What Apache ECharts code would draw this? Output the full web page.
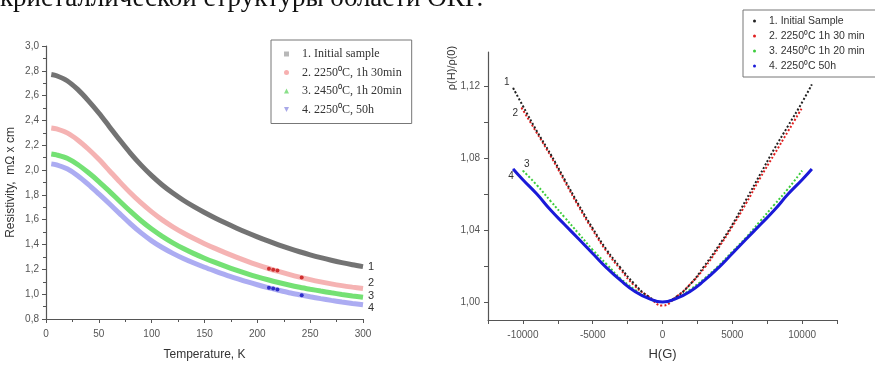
<!DOCTYPE html>
<html>
<head>
<meta charset="utf-8">
<script src="https://cdn.jsdelivr.net/npm/echarts@6/dist/echarts.min.js"></script>
<style>
  html, body { margin: 0; padding: 0; background: #fff; }
  #chart { width: 875px; height: 366px; }
</style>
</head>
<body>
<div id="chart"></div>
<script>
// left panel: resistivity vs temperature
const temps = [5, 10, 20, 30, 40, 50, 60, 70, 80, 90, 100, 110, 120, 130, 140, 150,
  160, 170, 180, 190, 200, 210, 220, 230, 240, 250, 260, 270, 280, 290, 300];
const resInitial = [2.770, 2.760, 2.720, 2.650, 2.560, 2.460, 2.350, 2.240, 2.135, 2.040, 1.955, 1.880, 1.815,
  1.757, 1.705, 1.658, 1.614, 1.573, 1.534, 1.497, 1.462, 1.429, 1.398, 1.369, 1.342, 1.317, 1.294, 1.273,
  1.254, 1.237, 1.222];
const res2250short = [2.340, 2.332, 2.300, 2.243, 2.170, 2.087, 1.995, 1.903, 1.815, 1.735, 1.663, 1.599, 1.543,
  1.493, 1.448, 1.407, 1.369, 1.333, 1.299, 1.267, 1.237, 1.209, 1.183, 1.159, 1.137, 1.117, 1.099, 1.083,
  1.069, 1.057, 1.046];
const res2450 = [2.130, 2.122, 2.095, 2.045, 1.980, 1.908, 1.829, 1.747, 1.667, 1.592, 1.525, 1.466, 1.414,
  1.368, 1.327, 1.290, 1.256, 1.224, 1.194, 1.166, 1.140, 1.116, 1.094, 1.074, 1.056, 1.040, 1.025, 1.011,
  0.998, 0.986, 0.975];
const res2250long = [2.050, 2.042, 2.010, 1.955, 1.885, 1.808, 1.729, 1.647, 1.567, 1.494, 1.430, 1.376, 1.329,
  1.288, 1.251, 1.217, 1.186, 1.156, 1.128, 1.101, 1.076, 1.053, 1.032, 1.012, 0.995, 0.979, 0.964, 0.950,
  0.937, 0.925, 0.914];
// darker spots on curves 2 and 4
const spots2 = [[211, 1.204], [215, 1.197], [219, 1.190], [242, 1.134]];
const spots4 = [[211, 1.051], [215, 1.045], [219, 1.038], [242, 0.992]];
const leftNames = ['1. Initial sample', '2. 2250⁰C, 1h 30min', '3. 2450⁰C, 1h 20min', '4. 2250⁰C, 50h'];
const endTags = ['1', '2', '3', '4'];

// right panel: magnetoresistance, [H, rho(H)/rho(0)]
const mrInitial = [[-10700, 1.119], [-10000, 1.109], [-9000, 1.095], [-8000, 1.082], [-7000, 1.068], [-6000, 1.054],
  [-5000, 1.041], [-4000, 1.029], [-3000, 1.019], [-2000, 1.010], [-1000, 1.003], [0, 1.000], [1000, 1.003],
  [2000, 1.010], [3000, 1.020], [4000, 1.031], [5000, 1.043], [6000, 1.057], [7000, 1.071], [8000, 1.085],
  [9000, 1.098], [10000, 1.111], [10700, 1.121]];
const mr2250short = [[-10100, 1.108], [-9000, 1.094], [-8000, 1.081], [-7000, 1.067], [-6000, 1.053], [-5000, 1.040],
  [-4000, 1.028], [-3000, 1.018], [-2000, 1.009], [-1000, 1.003], [0, 0.998], [1000, 1.003], [2000, 1.010],
  [3000, 1.019], [4000, 1.030], [5000, 1.042], [6000, 1.055], [7000, 1.069], [8000, 1.082], [9000, 1.095],
  [10000, 1.108]];
const mr2450 = [[-10000, 1.073], [-9000, 1.065], [-8000, 1.056], [-7000, 1.047], [-6000, 1.038], [-5000, 1.029],
  [-4000, 1.021], [-3000, 1.013], [-2000, 1.007], [-1000, 1.002], [0, 1.000], [1000, 1.002], [2000, 1.007],
  [3000, 1.013], [4000, 1.020], [5000, 1.028], [6000, 1.036], [7000, 1.045], [8000, 1.054], [9000, 1.063],
  [10000, 1.073]];
const mr2250long = [[-10700, 1.074], [-10000, 1.068], [-9000, 1.060], [-8000, 1.051], [-7000, 1.043], [-6000, 1.035],
  [-5000, 1.027], [-4000, 1.019], [-3000, 1.012], [-2000, 1.006], [-1000, 1.002], [0, 1.000], [1000, 1.002],
  [2000, 1.006], [3000, 1.012], [4000, 1.019], [5000, 1.027], [6000, 1.035], [7000, 1.043], [8000, 1.051],
  [9000, 1.060], [10000, 1.068], [10700, 1.074]];
const rightNames = ['1. Initial Sample', '2. 2250⁰C 1h 30 min', '3. 2450⁰C 1h 20 min', '4. 2250⁰C 50h'];

const leftYTicks = { min: 0.8, max: 3.0, step: 0.2 };
const rightXLabels = [-10000, -5000, 0, 5000, 10000];
const rightYLabels = [1.00, 1.04, 1.08, 1.12];
const rightYTicks = [1.00, 1.02, 1.04, 1.06, 1.08, 1.10, 1.12];

const sans = '"Liberation Sans", Arial, sans-serif';
const serif = '"Liberation Serif", "Times New Roman", serif';
const comma = (v, d) => v.toFixed(d).replace('.', ',');
const pair = (xs, ys) => xs.map((x, i) => [x, ys[i]]);

const chart = echarts.init(document.getElementById('chart'));

const axisCommon = {
  axisLine: { show: true, onZero: false, lineStyle: { color: '#555', width: 1.2 } },
  axisTick: { show: true, length: 4, lineStyle: { color: '#555' } },
  axisLabel: { color: '#555', fontSize: 10, fontFamily: sans },
  splitLine: { show: false },
  nameTextStyle: { color: '#333', fontSize: 12, fontFamily: sans }
};

const leftColors = ['#5a5a5a', '#f3a6a6', '#5cdc5c', '#9e9ef0'];
const leftData = [resInitial, res2250short, res2450, res2250long];
const endOffsets = [[2, 0], [2, -6], [2, -1], [2, 3]];

const leftSeries = leftData.map((vals, i) => ({
  name: leftNames[i],
  type: 'line',
  xAxisIndex: 0, yAxisIndex: 0,
  data: pair(temps, vals),
  smooth: 0.3,
  showSymbol: false,
  color: leftColors[i],
  lineStyle: { width: 5, color: leftColors[i], opacity: 0.85 },
  endLabel: {
    show: true, formatter: endTags[i], distance: 3, offset: endOffsets[i],
    color: '#333', fontSize: 11, fontFamily: sans
  },
  silent: true,
  animation: false
}));

leftSeries.push({
  type: 'scatter', xAxisIndex: 0, yAxisIndex: 0, data: spots2, z: 5,
  symbolSize: 4, itemStyle: { color: '#cc2020', opacity: 0.9 }, animation: false
}, {
  type: 'scatter', xAxisIndex: 0, yAxisIndex: 0, data: spots4, z: 5,
  symbolSize: 4, itemStyle: { color: '#2020c4', opacity: 0.9 }, animation: false
});

const rightColors = ['#222222', '#e02020', '#3ccc3c', '#1a1ad8'];
const rightData = [mr2250short, mrInitial, mr2450, mr2250long];
const rightOrder = [1, 0, 2, 3];
const tagPos = [
  { position: 'left', offset: [0, -6] },
  { position: 'left', offset: [0, 5] },
  { position: 'top', offset: [4, 2] },
  { position: 'bottom', offset: [-2, -1] }
];

const rightSeries = rightData.map((pts, k) => {
  const i = rightOrder[k];
  return {
    name: rightNames[i],
    type: 'line',
    xAxisIndex: 1, yAxisIndex: 1,
    data: pts,
    smooth: true,
    showSymbol: false,
    color: rightColors[i],
    lineStyle: i === 3 ? { width: 3, color: rightColors[i] } : { width: 2, type: 'dotted', color: rightColors[i] },
    markPoint: {
      symbol: 'circle', symbolSize: 1,
      itemStyle: { color: rightColors[i] },
      data: [{
        coord: pts[0],
        label: {
          show: true, formatter: endTags[i], position: tagPos[i].position, distance: 3,
          offset: tagPos[i].offset, color: '#333', fontSize: 10, fontFamily: sans
        }
      }]
    },
    silent: true,
    animation: false
  };
});

chart.setOption({
  backgroundColor: '#fff',
  animation: false,
  graphic: [{
    type: 'text', x: 0, y: 12,
    style: {
      text: 'кристаллической структуры области ОКР.',
      font: '27px ' + serif,
      fill: '#111', verticalAlign: 'bottom'
    }
  }, {
    type: 'text', x: 452, y: 68, rotation: Math.PI / 2,
    style: {
      text: 'ρ(H)/ρ(0)', font: '11px ' + sans, fill: '#333',
      align: 'center', verticalAlign: 'middle'
    }
  }],
  grid: [
    { left: 46, top: 46, width: 317, height: 273 },
    { left: 488, top: 52, width: 349, height: 273 }
  ],
  legend: [{
    orient: 'vertical', left: 271, top: 40,
    data: [
      { name: leftNames[0], icon: 'rect', itemStyle: { color: '#b8b8b8' } },
      { name: leftNames[1], icon: 'circle', itemStyle: { color: '#f7b0b0' } },
      { name: leftNames[2], icon: 'triangle', itemStyle: { color: '#8ae08a' } },
      { name: leftNames[3], icon: 'path://M0,0L10,0L5,10Z', itemStyle: { color: '#a8a8e8' } }
    ],
    itemWidth: 5, itemHeight: 5, itemGap: 6.5,
    padding: [8, 10, 8, 13],
    borderColor: '#777', borderWidth: 1,
    textStyle: { fontFamily: serif, fontSize: 12, color: '#333', lineHeight: 12, padding: [0, 0, 0, 8] },
    selectedMode: false
  }, {
    orient: 'vertical', left: 743, top: 10,
    data: rightNames.map((n, i) => ({ name: n, icon: 'circle', itemStyle: { color: rightColors[i] } })),
    itemWidth: 3, itemHeight: 3, itemGap: 3,
    padding: [5, 40, 5, 10],
    borderColor: '#777', borderWidth: 1,
    textStyle: { fontFamily: sans, fontSize: 10.5, color: '#333', lineHeight: 12, padding: [0, 0, 0, 8] },
    selectedMode: false
  }],
  xAxis: [{
    ...axisCommon,
    gridIndex: 0, type: 'value', min: 0, max: 300, interval: 50,
    name: 'Temperature, K', nameLocation: 'middle', nameGap: 30,
    minorTick: { show: true, splitNumber: 2, length: 3, lineStyle: { color: '#555' } },
    axisLabel: { ...axisCommon.axisLabel, margin: 10 }
  }, {
    ...axisCommon,
    gridIndex: 1, type: 'value', min: -12500, max: 12500, interval: 2500,
    name: 'H(G)', nameLocation: 'middle', nameGap: 28,
    nameTextStyle: { ...axisCommon.nameTextStyle, fontSize: 13 },
    axisLabel: {
      ...axisCommon.axisLabel, margin: 10,
      formatter: v => (rightXLabels.includes(v) ? String(v) : '')
    }
  }],
  yAxis: [{
    ...axisCommon,
    gridIndex: 0, type: 'value', min: leftYTicks.min, max: leftYTicks.max, interval: leftYTicks.step,
    name: 'Resistivity,  mΩ x cm', nameLocation: 'middle', nameGap: 29,
    minorTick: { show: true, splitNumber: 2, length: 3, lineStyle: { color: '#555' } },
    axisLabel: { ...axisCommon.axisLabel, margin: 7, formatter: v => comma(v, 1) }
  }, {
    ...axisCommon,
    gridIndex: 1, type: 'value', min: 0.99, max: 1.139,
    axisTick: { ...axisCommon.axisTick, customValues: rightYTicks },
    axisLabel: { ...axisCommon.axisLabel, margin: 8, customValues: rightYLabels, formatter: v => comma(v, 2) }
  }],
  series: [...leftSeries, ...rightSeries]
});
</script>
</body>
</html>
